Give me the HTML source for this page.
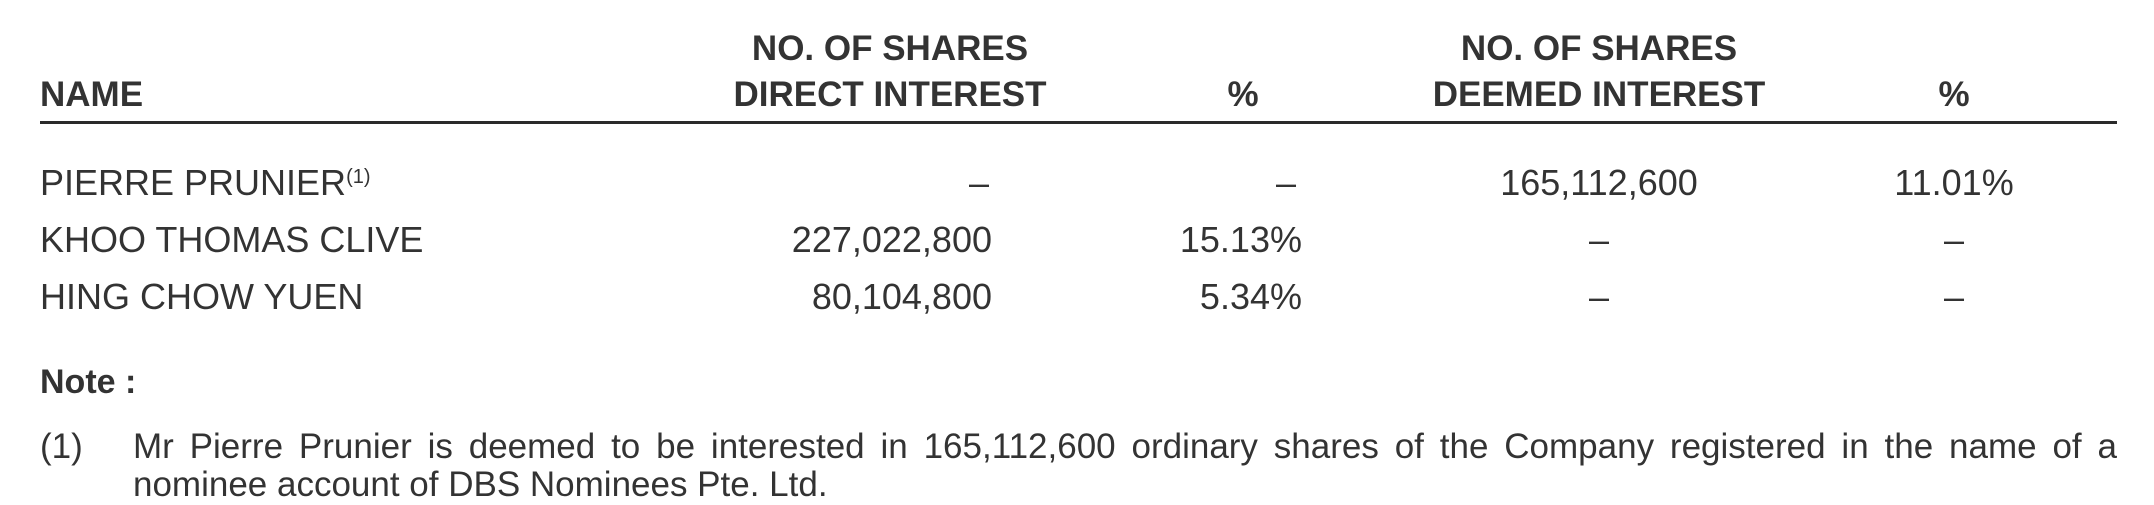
<!DOCTYPE html>
<html><head><meta charset="utf-8"><style>
html,body{margin:0;padding:0;background:#fff;}
body{width:2154px;height:505px;position:relative;overflow:hidden;font-family:"Liberation Sans",sans-serif;color:#333;}
.t{position:absolute;white-space:nowrap;font-size:36px;line-height:40px;}
.b{font-weight:bold;font-size:35px;}
.r{text-align:right;}
.c{text-align:center;}
sup{font-size:20px;vertical-align:12px;line-height:0;}
</style></head><body>
<div class="t b" style="left:40px;top:75px;">NAME</div>
<div class="t b c" style="left:690px;width:400px;top:29px;">NO. OF SHARES</div>
<div class="t b c" style="left:690px;width:400px;top:75px;">DIRECT INTEREST</div>
<div class="t b c" style="left:1143px;width:200px;top:75px;">%</div>
<div class="t b c" style="left:1399px;width:400px;top:29px;">NO. OF SHARES</div>
<div class="t b c" style="left:1399px;width:400px;top:75px;">DEEMED INTEREST</div>
<div class="t b c" style="left:1854px;width:200px;top:75px;">%</div>
<div style="position:absolute;left:40px;top:121px;width:2077px;height:3px;background:#2a2a2a;"></div>

<div class="t" style="left:40px;top:163px;">PIERRE PRUNIER<sup>(1)</sup></div>
<div class="t c" style="left:929px;width:100px;top:163px;">–</div>
<div class="t c" style="left:1236px;width:100px;top:163px;">–</div>
<div class="t c" style="left:1399px;width:400px;top:163px;">165,112,600</div>
<div class="t c" style="left:1854px;width:200px;top:163px;">11.01%</div>

<div class="t" style="left:40px;top:220px;">KHOO THOMAS CLIVE</div>
<div class="t r" style="left:692px;width:300px;top:220px;">227,022,800</div>
<div class="t r" style="left:1102px;width:200px;top:220px;">15.13%</div>
<div class="t c" style="left:1549px;width:100px;top:220px;">–</div>
<div class="t c" style="left:1904px;width:100px;top:220px;">–</div>

<div class="t" style="left:40px;top:277px;">HING CHOW YUEN</div>
<div class="t r" style="left:692px;width:300px;top:277px;">80,104,800</div>
<div class="t r" style="left:1102px;width:200px;top:277px;">5.34%</div>
<div class="t c" style="left:1549px;width:100px;top:277px;">–</div>
<div class="t c" style="left:1904px;width:100px;top:277px;">–</div>

<div class="t b" style="left:40px;top:362px;font-size:34px;">Note :</div>
<div class="t" style="left:40px;top:427px;font-size:35px;">(1)</div>
<div class="t" style="left:133px;top:427px;width:1984px;font-size:35px;text-align:justify;text-align-last:justify;white-space:normal;height:40px;overflow:hidden;">Mr Pierre Prunier is deemed to be interested in 165,112,600 ordinary shares of the Company registered in the name of a</div>
<div class="t" style="left:133px;top:465px;font-size:35px;">nominee account of DBS Nominees Pte. Ltd.</div>
</body></html>
